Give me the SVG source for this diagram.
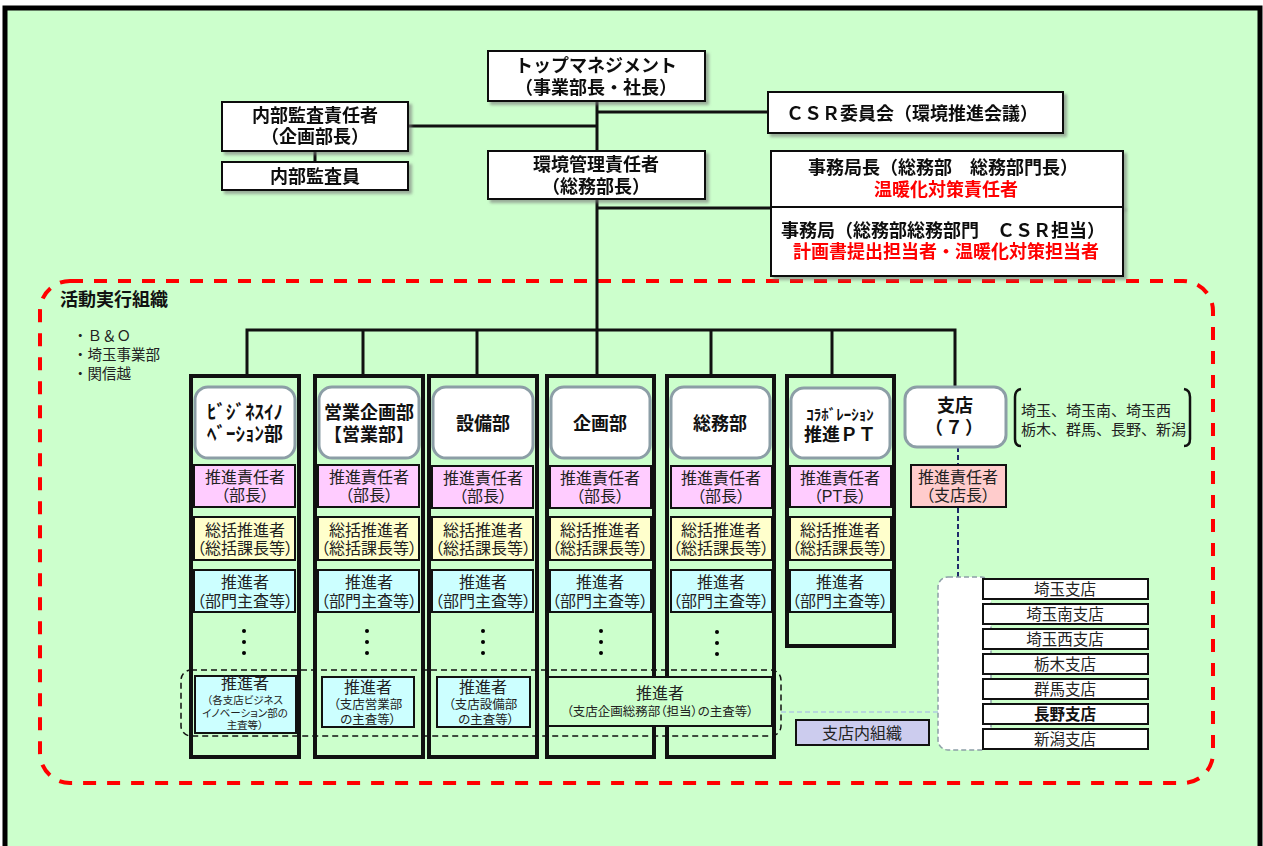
<svg xmlns="http://www.w3.org/2000/svg" width="1263" height="846" viewBox="0 0 1263 846">
<defs>
<filter id="sh" x="-10%" y="-10%" width="130%" height="140%">
<feDropShadow dx="3" dy="3" stdDeviation="1.5" flood-color="#777" flood-opacity="0.6"/>
</filter>
<style>
text{font-family:"Liberation Sans","Noto Sans CJK JP",sans-serif;text-anchor:middle;fill:#111}
.tb{fill:#fff;stroke:#111;stroke-width:2}
.t17{font-size:18px;font-weight:bold}
.red{fill:#ff0000}
.ln{stroke:#111;stroke-width:3;fill:none}
.col{fill:none;stroke:#111;stroke-width:4}
.hd{fill:#fff;stroke:#8c9ea6;stroke-width:3}
.ht{font-size:18px;font-weight:bold}
.pk{fill:#ffccff;stroke:#111;stroke-width:2}
.yl{fill:#ffffcc;stroke:#111;stroke-width:2}
.cy{fill:#ccffff;stroke:#111;stroke-width:2}
.gr{fill:#ccffcc;stroke:#111;stroke-width:2}
.bt{font-size:16px;fill:#222}
.bp{font-size:16px;fill:#222;font-feature-settings:"palt"}
.sm{font-size:10.5px;fill:#222;font-feature-settings:"palt"}
.st{font-size:12.5px;fill:#222;font-feature-settings:"palt"}
.br{fill:#fff;stroke:#111;stroke-width:2}
.lt{font-size:15.5px;fill:#222}
</style>
</defs>
<rect x="0" y="0" width="1263" height="846" fill="#fff"/>
<rect x="5" y="8" width="1255" height="845" fill="#ccffcc" stroke="#000" stroke-width="5"/>

<!-- red dashed activity area -->
<rect x="40" y="281" width="1173" height="502" rx="30" fill="none" stroke="#ff0000" stroke-width="4" stroke-dasharray="13 11"/>
<text x="60" y="306" style="font-size:18px;font-weight:bold;text-anchor:start">活動実行組織</text>
<text x="73" y="341" style="font-size:14.5px;text-anchor:start;fill:#222">・Ｂ＆Ｏ</text>
<text x="73" y="360" style="font-size:14.5px;text-anchor:start;fill:#222">・埼玉事業部</text>
<text x="73" y="379" style="font-size:14.5px;text-anchor:start;fill:#222">・関信越</text>

<g id="connectors">
<line class="ln" x1="597" y1="100" x2="597" y2="330"/>
<line class="ln" x1="408" y1="126" x2="597" y2="126"/>
<line class="ln" x1="315" y1="151" x2="315" y2="162"/>
<line class="ln" x1="597" y1="112" x2="768" y2="112"/>
<line class="ln" x1="597" y1="208" x2="771" y2="208"/>
<polyline class="ln" points="247,376 247,330 955,330 955,387"/>
<line class="ln" x1="363" y1="330" x2="363" y2="376"/>
<line class="ln" x1="477" y1="330" x2="477" y2="376"/>
<line class="ln" x1="597" y1="330" x2="597" y2="376"/>
<line class="ln" x1="711" y1="330" x2="711" y2="376"/>
<line class="ln" x1="832" y1="330" x2="832" y2="376"/>
<line x1="958" y1="447" x2="958" y2="465" stroke="#1f2a6b" stroke-width="2" stroke-dasharray="5 3"/>
<line x1="958" y1="508" x2="958" y2="577" stroke="#1f2a6b" stroke-width="2" stroke-dasharray="5 3"/>
<line x1="781" y1="712" x2="938" y2="712" stroke="#b0cce0" stroke-width="1.5" stroke-dasharray="5 3"/>
</g>

<g id="top-management" filter="url(#sh)">
<rect class="tb" x="488" y="51" width="217" height="50"/>
<text class="t17" x="596" y="72">トップマネジメント</text>
<text class="t17" x="596" y="94">（事業部長・社長）</text>
</g>
<g id="internal-audit-head" filter="url(#sh)">
<rect class="tb" x="222" y="102" width="186" height="49"/>
<text class="t17" x="315" y="122">内部監査責任者</text>
<text class="t17" x="315" y="143">（企画部長）</text>
</g>
<g id="internal-auditor" filter="url(#sh)">
<rect class="tb" x="222" y="162" width="186" height="28"/>
<text class="t17" x="315" y="182.5">内部監査員</text>
</g>
<g id="env-manager" filter="url(#sh)">
<rect class="tb" x="488" y="151" width="217" height="48"/>
<text class="t17" x="596" y="171">環境管理責任者</text>
<text class="t17" x="596" y="193">（総務部長）</text>
</g>
<g id="csr-committee" filter="url(#sh)">
<rect class="tb" x="768" y="92" width="295" height="41"/>
<text class="t17" x="912" y="119.5">ＣＳＲ委員会（環境推進会議）</text>
</g>
<g id="secretariat-head" filter="url(#sh)">
<rect class="tb" x="771" y="151" width="352" height="56"/>
<text class="t17" x="943" y="174">事務局長（総務部　総務部門長）</text>
<text class="t17 red" x="946" y="196">温暖化対策責任者</text>
</g>
<g id="secretariat" filter="url(#sh)">
<rect class="tb" x="771" y="207" width="352" height="69"/>
<text class="t17" x="943" y="237">事務局（総務部総務部門　ＣＳＲ担当）</text>
<text class="t17 red" x="946" y="258">計画書提出担当者・温暖化対策担当者</text>
</g>

<g id="col-business-innovation">
<rect class="col" x="191" y="376" width="108" height="381"/>
<rect class="hd" x="195" y="387" width="100" height="71" rx="13"/>
<text class="ht" x="245" y="419" style="font-size:19px">ﾋﾞｼﾞﾈｽｲﾉ</text>
<text class="ht" x="245" y="441" style="font-size:19px">ﾍﾞｰｼｮﾝ部</text>
<rect class="pk" x="194" y="465" width="101" height="42"/>
<text class="bt" x="245" y="483">推進責任者</text><text class="bp" x="245" y="501">（部長）</text>
<rect class="yl" x="194" y="517" width="101" height="43"/>
<text class="bt" x="245" y="535.5">総括推進者</text><text class="bp" x="245" y="554">（総括課長等）</text>
<rect class="cy" x="194" y="570" width="101" height="42"/>
<text class="bt" x="245" y="588">推進者</text><text class="bp" x="245" y="607">（部門主査等）</text>
<circle cx="244" cy="631" r="2"/><circle cx="244" cy="642" r="2"/><circle cx="244" cy="653" r="2"/>
<rect class="cy" x="195" y="676" width="101" height="57"/>
<text class="bt" x="245" y="689">推進者</text>
<text class="sm" x="245" y="704">（各支店ビジネス</text>
<text class="sm" x="245" y="716.5">イノベーション部の</text>
<text class="sm" x="245" y="729">主査等）</text>
</g>

<g id="col-sales-planning">
<rect class="col" x="315" y="376" width="108" height="381"/>
<rect class="hd" x="319" y="387" width="100" height="71" rx="13"/>
<text class="ht" x="369" y="419">営業企画部</text>
<text class="ht" x="369" y="441">【営業部】</text>
<rect class="pk" x="318" y="465" width="101" height="42"/>
<text class="bt" x="369" y="483">推進責任者</text><text class="bp" x="369" y="501">（部長）</text>
<rect class="yl" x="318" y="517" width="101" height="43"/>
<text class="bt" x="369" y="535.5">総括推進者</text><text class="bp" x="369" y="554">（総括課長等）</text>
<rect class="cy" x="318" y="570" width="101" height="42"/>
<text class="bt" x="369" y="588">推進者</text><text class="bp" x="369" y="607">（部門主査等）</text>
<circle cx="367" cy="631" r="2"/><circle cx="367" cy="642" r="2"/><circle cx="367" cy="653" r="2"/>
<rect class="cy" x="322" y="677" width="92" height="50"/>
<text class="bt" x="368" y="693">推進者</text>
<text class="st" x="368" y="709">（支店営業部</text>
<text class="st" x="368" y="724">の主査等）</text>
</g>

<g id="col-facilities">
<rect class="col" x="429" y="376" width="108" height="381"/>
<rect class="hd" x="433" y="387" width="100" height="71" rx="13"/>
<text class="ht" x="483" y="430">設備部</text>
<rect class="pk" x="432" y="466" width="101" height="42"/>
<text class="bt" x="483" y="484">推進責任者</text><text class="bp" x="483" y="502">（部長）</text>
<rect class="yl" x="432" y="517" width="101" height="43"/>
<text class="bt" x="483" y="535.5">総括推進者</text><text class="bp" x="483" y="554">（総括課長等）</text>
<rect class="cy" x="432" y="570" width="101" height="42"/>
<text class="bt" x="483" y="588">推進者</text><text class="bp" x="483" y="607">（部門主査等）</text>
<circle cx="483" cy="631" r="2"/><circle cx="483" cy="642" r="2"/><circle cx="483" cy="653" r="2"/>
<rect class="cy" x="437" y="677" width="93" height="50"/>
<text class="bt" x="483" y="693">推進者</text>
<text class="st" x="483" y="709">（支店設備部</text>
<text class="st" x="486" y="724">の主査等）</text>
</g>

<g id="col-planning">
<rect class="col" x="547" y="376" width="107" height="381"/>
<rect class="hd" x="551" y="387" width="99" height="71" rx="13"/>
<text class="ht" x="600" y="430">企画部</text>
<rect class="pk" x="550" y="466" width="101" height="42"/>
<text class="bt" x="600" y="484">推進責任者</text><text class="bp" x="600" y="502">（部長）</text>
<rect class="yl" x="550" y="517" width="101" height="43"/>
<text class="bt" x="600" y="535.5">総括推進者</text><text class="bp" x="600" y="554">（総括課長等）</text>
<rect class="cy" x="550" y="570" width="101" height="42"/>
<text class="bt" x="600" y="588">推進者</text><text class="bp" x="600" y="607">（部門主査等）</text>
<circle cx="601" cy="631" r="2"/><circle cx="601" cy="642" r="2"/><circle cx="601" cy="653" r="2"/>
</g>

<g id="col-general-affairs">
<rect class="col" x="667" y="376" width="107" height="381"/>
<rect class="hd" x="671" y="387" width="99" height="71" rx="13"/>
<text class="ht" x="720" y="430">総務部</text>
<rect class="pk" x="671" y="466" width="101" height="42"/>
<text class="bt" x="721" y="484">推進責任者</text><text class="bp" x="721" y="502">（部長）</text>
<rect class="yl" x="671" y="517" width="101" height="43"/>
<text class="bt" x="721" y="535.5">総括推進者</text><text class="bp" x="721" y="554">（総括課長等）</text>
<rect class="cy" x="671" y="570" width="101" height="42"/>
<text class="bt" x="721" y="588">推進者</text><text class="bp" x="721" y="607">（部門主査等）</text>
<circle cx="717" cy="632" r="2"/><circle cx="717" cy="643" r="2"/><circle cx="717" cy="654" r="2"/>
</g>

<g id="branch-planning-promoter">
<rect class="gr" x="548" y="677" width="224" height="49"/>
<text class="bt" x="660" y="699">推進者</text>
<text class="st" x="660" y="716">（支店企画総務部（担当）の主査等）</text>
</g>

<g id="col-collaboration-pt">
<rect class="col" x="787" y="376" width="107" height="270"/>
<rect class="hd" x="791" y="388" width="99" height="70" rx="13"/>
<text class="ht" x="840" y="420" style="font-size:15px">ｺﾗﾎﾞﾚｰｼｮﾝ</text>
<text class="ht" x="840" y="441">推進ＰＴ</text>
<rect class="pk" x="790" y="466" width="101" height="41"/>
<text class="bt" x="840" y="484">推進責任者</text><text class="bp" x="840" y="502">（PT長）</text>
<rect class="yl" x="790" y="517" width="101" height="43"/>
<text class="bt" x="840" y="535.5">総括推進者</text><text class="bp" x="840" y="554">（総括課長等）</text>
<rect class="cy" x="790" y="570" width="101" height="42"/>
<text class="bt" x="840" y="588">推進者</text><text class="bp" x="840" y="607">（部門主査等）</text>
</g>

<!-- branch promoter dashed grouping -->
<rect x="181" y="670" width="600" height="66" rx="10" fill="none" stroke="#111" stroke-width="1.5" stroke-dasharray="6 4"/>

<g id="branches">
<rect class="hd" x="905" y="387" width="101" height="60" rx="12"/>
<text class="ht" x="955" y="412">支店</text>
<text class="ht" x="955" y="434" style="letter-spacing:2px">（７）</text>
<path d="M1021,389 Q1015,390 1015,397 L1015,439 Q1015,446 1021,446" fill="none" stroke="#111" stroke-width="2.5"/>
<path d="M1184,389 Q1190,390 1190,397 L1190,439 Q1190,446 1184,446" fill="none" stroke="#111" stroke-width="2.5"/>
<text x="1021" y="415.5" style="font-size:15px;text-anchor:start;fill:#222">埼玉、埼玉南、埼玉西</text>
<text x="1021" y="435" style="font-size:15px;text-anchor:start;fill:#222">栃木、群馬、長野、新潟</text>
</g>
<g id="branch-head">
<rect x="911" y="465" width="95" height="42" fill="#ffcccc" stroke="#111" stroke-width="2"/>
<text class="bt" x="958" y="483">推進責任者</text>
<text class="bp" x="958" y="501">（支店長）</text>
</g>

<g id="branch-list">
<rect x="938" y="577" width="53" height="173" rx="10" fill="#fff" stroke="#8c9ea6" stroke-width="1.5" stroke-dasharray="5 3"/>
<rect class="br" x="983" y="579" width="165" height="20"/><text class="lt" x="1065" y="595">埼玉支店</text>
<rect class="br" x="983" y="604" width="165" height="20"/><text class="lt" x="1065" y="620">埼玉南支店</text>
<rect class="br" x="983" y="629" width="165" height="20"/><text class="lt" x="1065" y="645">埼玉西支店</text>
<rect class="br" x="983" y="654" width="165" height="20"/><text class="lt" x="1065" y="670">栃木支店</text>
<rect class="br" x="983" y="679" width="165" height="20"/><text class="lt" x="1065" y="695">群馬支店</text>
<rect class="br" x="983" y="704" width="165" height="20"/><text x="1065" y="720" style="font-size:15.5px;font-weight:bold">長野支店</text>
<rect class="br" x="983" y="729" width="165" height="20"/><text class="lt" x="1065" y="745">新潟支店</text>
</g>

<g id="branch-internal-org">
<rect x="796" y="720" width="133" height="25" fill="#ccccee" stroke="#111" stroke-width="2"/>
<text x="862" y="738.5" style="font-size:16px;fill:#222">支店内組織</text>
</g>
</svg>
